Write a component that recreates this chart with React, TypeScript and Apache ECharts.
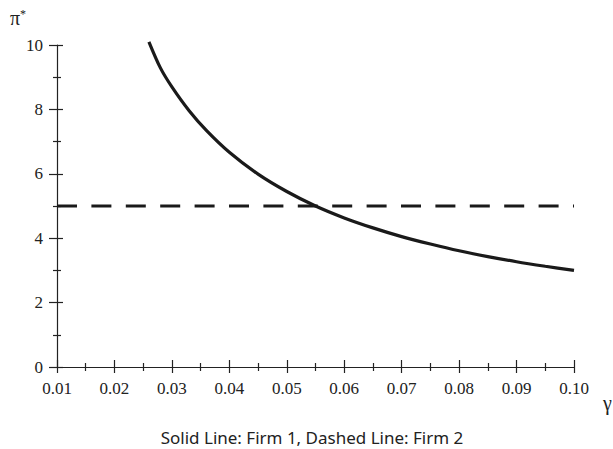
import React, { useEffect, useRef } from "react";
import * as echarts from "echarts";

// gamma values (x) and equilibrium profit
const gammaFirm1 = [0.026, 0.028, 0.03, 0.033, 0.036, 0.04, 0.045, 0.05, 0.055, 0.06, 0.065, 0.07, 0.075, 0.08, 0.085, 0.09, 0.095, 0.1];
const profitFirm1 = [10.1, 9.29, 8.7, 7.96, 7.35, 6.67, 5.99, 5.45, 5.0, 4.63, 4.32, 4.05, 3.82, 3.61, 3.43, 3.27, 3.13, 3.0];
const gammaFirm2 = [0.01, 0.1];
const profitFirm2 = [5, 5];

const xTicks = { min: 0.01, max: 0.1, interval: 0.01 };
const yTicks = { min: 0, max: 10, interval: 2 };
const caption = "Solid Line: Firm 1, Dashed Line: Firm 2";
const yTitle = "π";
const xTitle = "γ";

const AXIS_COLOR = "#222";
const SERIF = "'Liberation Serif', 'Times New Roman', serif";

export default function App() {
  const ref = useRef<HTMLDivElement>(null);
  useEffect(() => {
    if (!ref.current) return;
    const chart = echarts.init(ref.current, null, { renderer: "svg" });
    const baseX = (inside: boolean, showLabel: boolean) => ({
      type: "value",
      position: "bottom",
      min: xTicks.min,
      max: xTicks.max,
      interval: xTicks.interval,
      splitLine: { show: false },
      axisLine: { show: !inside, lineStyle: { color: AXIS_COLOR, width: 1.2 } },
      axisTick: { show: true, inside, length: inside ? 7 : 6, lineStyle: { color: AXIS_COLOR, width: 1.2 } },
      minorTick: { show: true, splitNumber: 2, length: 4, lineStyle: { color: AXIS_COLOR, width: 1.2 } },
      minorSplitLine: { show: false },
      axisLabel: {
        show: showLabel,
        margin: 13,
        color: AXIS_COLOR,
        fontFamily: SERIF,
        fontSize: 17,
        formatter: (v: number) => v.toFixed(2),
      },
    });
    const baseY = (inside: boolean, showLabel: boolean) => ({
      type: "value",
      position: "left",
      min: yTicks.min,
      max: yTicks.max,
      interval: yTicks.interval,
      splitLine: { show: false },
      axisLine: { show: !inside, lineStyle: { color: AXIS_COLOR, width: 1.2 } },
      axisTick: { show: true, inside, length: inside ? 6 : 8, lineStyle: { color: AXIS_COLOR, width: 1.2 } },
      minorTick: { show: true, splitNumber: 2, length: 4, lineStyle: { color: AXIS_COLOR, width: 1.2 } },
      minorSplitLine: { show: false },
      axisLabel: {
        show: showLabel,
        margin: 14,
        color: AXIS_COLOR,
        fontFamily: SERIF,
        fontSize: 17,
      },
    });
    chart.setOption({
      animation: false,
      backgroundColor: "#fff",
      textStyle: { fontFamily: SERIF },
      grid: { left: 57, right: 39, top: 45, bottom: 82, containLabel: false },
      xAxis: [baseX(false, true), baseX(true, false)],
      yAxis: [baseY(false, true), baseY(true, false)],
      series: [
        {
          type: "line",
          name: "Firm 1",
          xAxisIndex: 0,
          yAxisIndex: 0,
          data: gammaFirm1.map((g, i) => [g, profitFirm1[i]]),
          smooth: 0.3,
          showSymbol: false,
          clip: false,
          lineStyle: { color: "#1a1a1a", width: 3.2 },
        },
        {
          type: "line",
          name: "Firm 2",
          xAxisIndex: 0,
          yAxisIndex: 0,
          data: gammaFirm2.map((g, i) => [g, profitFirm2[i]]),
          showSymbol: false,
          clip: false,
          lineStyle: { color: "#1a1a1a", width: 3.2, type: [20, 14.4], cap: "butt" },
        },
      ],
      graphic: [
        {
          type: "text",
          left: 10,
          top: 8,
          style: {
            text: "{p|" + yTitle + "}{s|*}",
            rich: {
              p: { fontFamily: SERIF, fontSize: 20, fill: AXIS_COLOR, verticalAlign: "bottom" },
              s: { fontFamily: SERIF, fontSize: 12, fill: AXIS_COLOR, verticalAlign: "top", padding: [0, 0, 7, 0] },
            },
          },
        },
        {
          type: "text",
          left: 603,
          top: 393,
          style: { text: xTitle, fontFamily: SERIF, fontSize: 20, fill: AXIS_COLOR },
        },
        {
          type: "text",
          x: 312,
          y: 437,
          style: {
            text: caption,
            fontFamily: "'Noto Sans', sans-serif",
            fontSize: 17,
            fill: AXIS_COLOR,
            align: "center",
            verticalAlign: "middle",
          },
        },
      ],
    });
    return () => chart.dispose();
  }, []);
  return <div ref={ref} style={{ position: "absolute", left: 0, top: 0, width: 613, height: 449 }} />;
}
